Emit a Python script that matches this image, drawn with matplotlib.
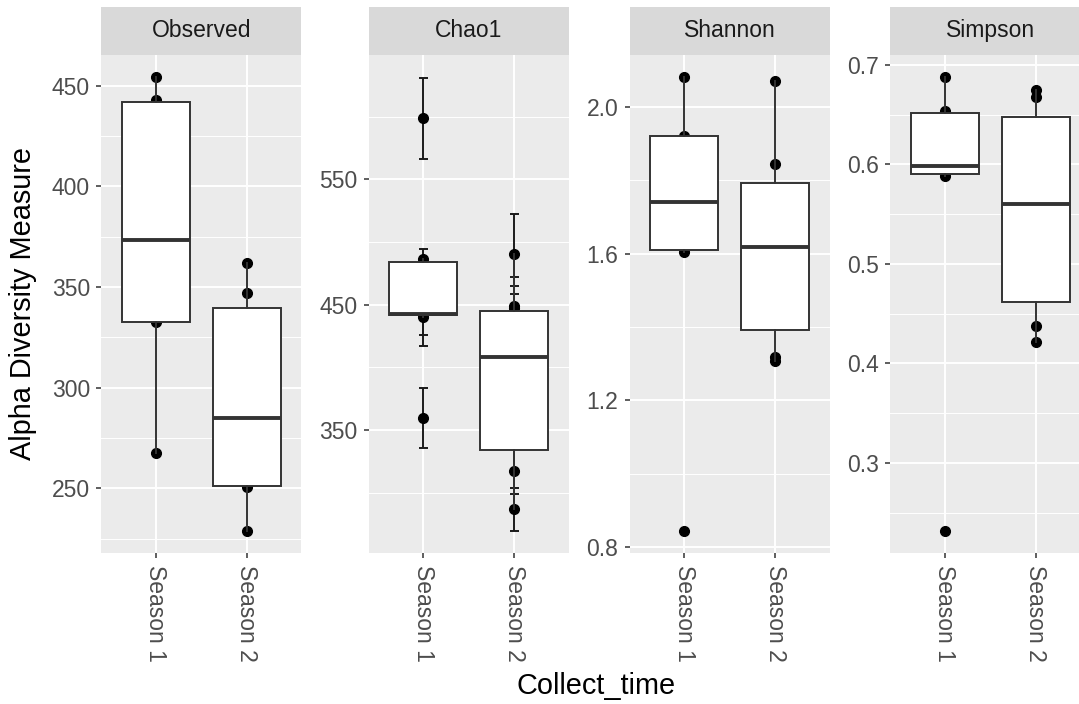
import matplotlib
matplotlib.use("Agg")
import matplotlib.pyplot as plt
import numpy as np

plt.rcParams['font.family'] = ['Liberation Sans', 'DejaVu Sans']

# data
metrics = ["Observed", "Chao1", "Shannon", "Simpson"]
seasons = ["Season 1", "Season 2"]

# box stats per season: [whisker low, q1, median, q3, whisker high]
observed_box = [[267.7, 332.8, 373.2, 442.0, 454.2], [229.0, 251.2, 284.9, 339.5, 362.1]]
chao1_box = [[440.4, 441.5, 442.5, 484.3, 486.2], [286.7, 334.1, 408.3, 445.2, 490.2]]
shannon_box = [[1.605, 1.610, 1.741, 1.921, 2.081], [1.308, 1.391, 1.617, 1.792, 2.069]]
simpson_box = [[0.588, 0.590, 0.5985, 0.6515, 0.6876], [0.422, 0.462, 0.560, 0.648, 0.675]]

# sample points per season
observed_pts = [[454.2, 443.0, 332.5, 267.7], [362.1, 347.0, 250.5, 229.0]]
chao1_pts = [[598.6, 486.2, 442.3, 440.4, 359.6], [490.2, 448.9, 447.0, 317.6, 286.7]]
chao1_se = [[32.3, 8.0, 16.8, 23.1, 24.0], [32.0, 23.4, 17.9, 19.0, 17.0]]
shannon_pts = [[2.081, 1.921, 1.605, 0.845], [2.069, 1.845, 1.318, 1.308]]
simpson_pts = [[0.6876, 0.654, 0.588, 0.232], [0.675, 0.668, 0.438, 0.422]]

ylims = [(217.7, 465.2), (251.7, 649.1), (0.7837, 2.141), (0.2092, 0.710)]
yticks = [[250, 300, 350, 400, 450], [350, 450, 550], [0.8, 1.2, 1.6, 2.0], [0.3, 0.4, 0.5, 0.6, 0.7]]
ytick_labels = [["250", "300", "350", "400", "450"], ["350", "450", "550"],
                ["0.8", "1.2", "1.6", "2.0"], ["0.3", "0.4", "0.5", "0.6", "0.7"]]
yminor = [[225, 275, 325, 375, 425], [300, 400, 500, 600], [1.0, 1.4, 1.8],
          [0.25, 0.35, 0.45, 0.55, 0.65]]

boxes = [observed_box, chao1_box, shannon_box, simpson_box]
points = [observed_pts, chao1_pts, shannon_pts, simpson_pts]

W, H = 1079, 704
fig = plt.figure(figsize=(W / 100, H / 100), dpi=100)

def px_rect(left, top, w, h):
    return [left / W, 1 - (top + h) / H, w / W, h / H]

panel_left = [101.3, 368.7, 629.7, 890.4]
panel_w = 200
panel_top = 55
panel_bot = 553.3
strip_top = 6.7
dark = '#333333'

for i, m in enumerate(metrics):
    ax = fig.add_axes(px_rect(panel_left[i], panel_top, panel_w, panel_bot - panel_top))
    ax.set_facecolor('#EBEBEB')
    for s in ax.spines.values():
        s.set_visible(False)
    ax.set_xlim(0.4, 2.6)
    ax.set_ylim(*ylims[i])
    ax.set_yticks(yticks[i])
    ax.set_yticklabels(ytick_labels[i])
    ax.set_yticks(yminor[i], minor=True)
    ax.set_xticks([1, 2])
    ax.set_xticklabels(seasons, rotation=270, ha='center', va='top')
    ax.grid(which='major', color='white', lw=1.4)
    ax.grid(which='minor', axis='y', color='white', lw=0.7)
    ax.set_axisbelow(True)
    ax.tick_params(which='major', length=3.6, width=1.1, color=dark,
                   labelsize=16.5, labelcolor='#4D4D4D', pad=4.5)
    ax.tick_params(which='minor', length=0)

    # points (and chao1 error bars) drawn under the boxes
    for j in range(2):
        ys = np.array(points[i][j])
        xs = np.full(len(ys), j + 1.0)
        if m == "Chao1":
            se = np.array(chao1_se[j])
            ax.vlines(xs, ys - se, ys + se, color='#1A1A1A', lw=1.4, zorder=2)
            ax.hlines(ys - se, xs - 0.05, xs + 0.05, color='#1A1A1A', lw=1.4, zorder=2)
            ax.hlines(ys + se, xs - 0.05, xs + 0.05, color='#1A1A1A', lw=1.4, zorder=2)
        ax.plot(xs, ys, 'o', ms=7, color='black', mec='black', zorder=2.2)

    stats = []
    for b in boxes[i]:
        stats.append(dict(whislo=b[0], q1=b[1], med=b[2], q3=b[3], whishi=b[4], fliers=[]))
    ax.bxp(stats, positions=[1, 2], widths=0.75, patch_artist=True, showfliers=False,
           showcaps=False, manage_ticks=False, zorder=3,
           boxprops=dict(facecolor='white', edgecolor=dark, lw=1.4),
           medianprops=dict(color=dark, lw=2.8, solid_capstyle='butt'),
           whiskerprops=dict(color=dark, lw=1.4))

    sax = fig.add_axes(px_rect(panel_left[i], strip_top, panel_w, panel_top - strip_top))
    sax.set_facecolor('#D9D9D9')
    sax.set_xticks([])
    sax.set_yticks([])
    for s in sax.spines.values():
        s.set_visible(False)
    sax.text(0.5, 0.5, m, ha='center', va='center', fontsize=16.5, color='#1A1A1A',
             transform=sax.transAxes)

fig.text(23 / W, 1 - 303 / H, "Alpha Diversity Measure", rotation=90, ha='center',
         va='center', fontsize=20.8, color='black')
fig.text(596 / W, 1 - 686 / H, "Collect_time", ha='center', va='center',
         fontsize=20.8, color='black')

fig.savefig("out.png", dpi=100)
